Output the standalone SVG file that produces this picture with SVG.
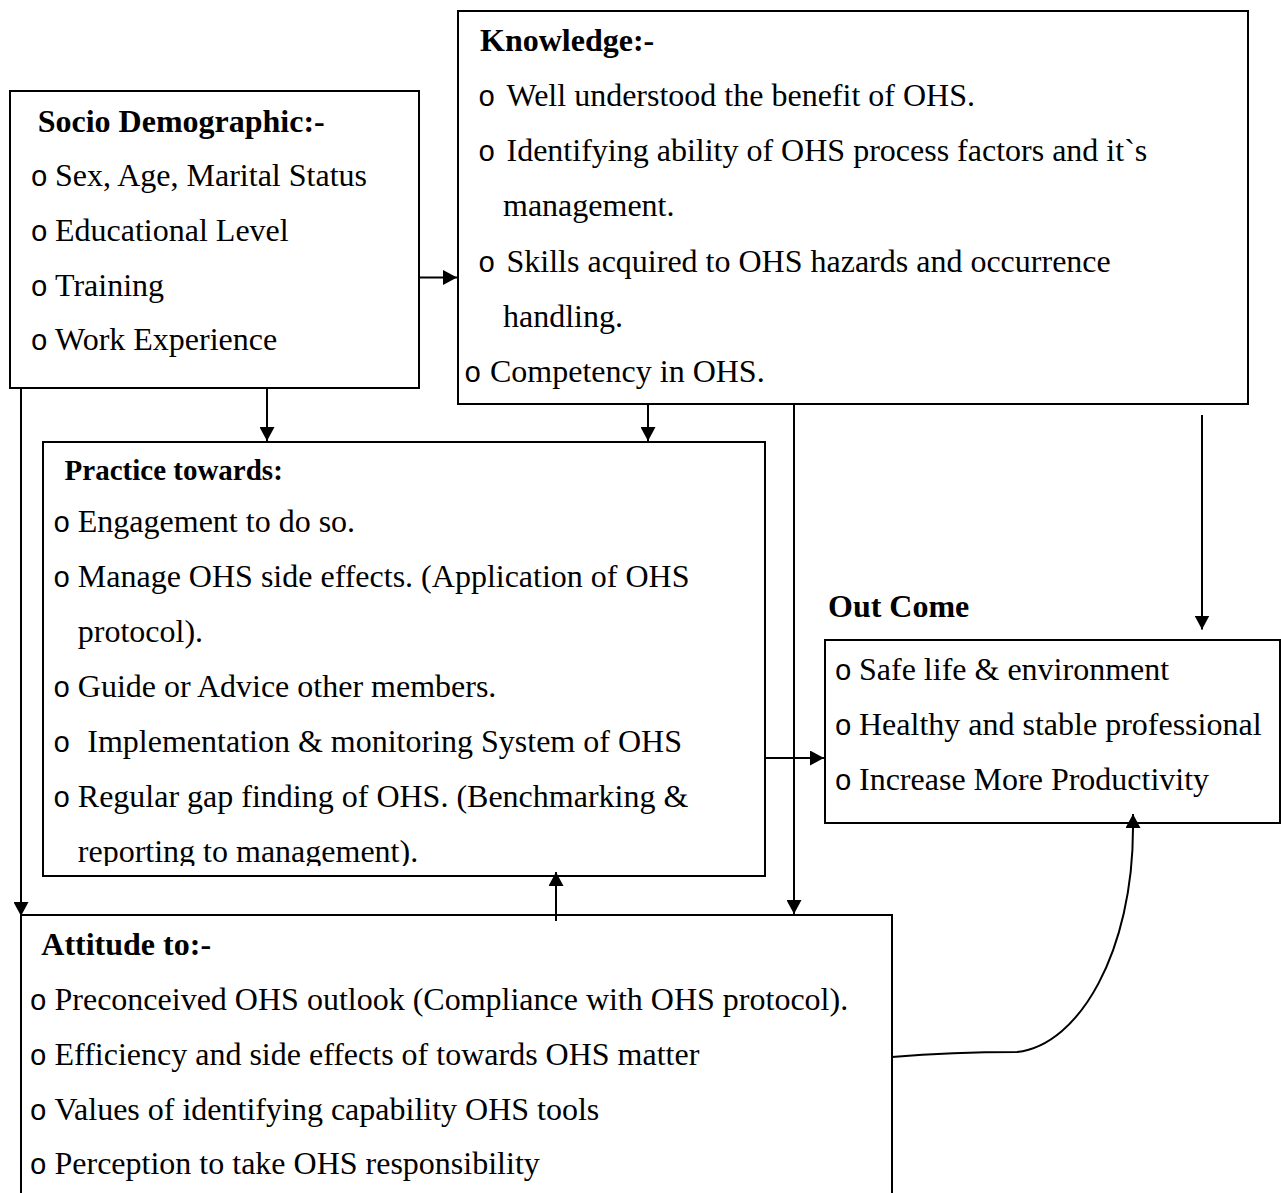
<svg xmlns="http://www.w3.org/2000/svg" width="1281" height="1193" viewBox="0 0 1281 1193">
<style>
.box{fill:#fff;stroke:#000;stroke-width:2}
.t{font-family:"Liberation Serif","Times New Roman",serif;font-size:32px;fill:#000}
.h{font-weight:bold}
.b{font-family:"Liberation Mono","Courier New",monospace;font-size:29px;fill:#000}
.c{fill:none;stroke:#000;stroke-width:2}
</style>
<defs>
<marker id="ah" viewBox="0 0 14 15" refX="14" refY="7.5" markerWidth="14" markerHeight="15" markerUnits="userSpaceOnUse" orient="auto">
<path d="M0,0 L14,7.5 L0,15 Z" fill="#000"/>
</marker>
<clipPath id="pclip"><rect x="43" y="442" width="722" height="424"/></clipPath>
</defs>
<rect width="1281" height="1193" fill="#fff"/>

<g id="socio">
<rect class="box" x="10" y="91" width="409" height="297"/>
<text class="t h" x="37.7" y="132">Socio Demographic:-</text>
<text class="b" x="30.5" y="186">o</text><text class="t" x="55" y="186">Sex, Age, Marital Status</text>
<text class="b" x="30.5" y="241">o</text><text class="t" x="55" y="241">Educational Level</text>
<text class="b" x="30.5" y="295.5">o</text><text class="t" x="55" y="295.5">Training</text>
<text class="b" x="30.5" y="349.5">o</text><text class="t" x="55" y="349.5">Work Experience</text>
</g>

<g id="knowledge">
<rect class="box" x="458" y="11" width="790" height="393"/>
<text class="t h" x="480" y="51">Knowledge:-</text>
<text class="b" x="478" y="106">o</text><text class="t" x="506.5" y="106">Well understood the benefit of OHS.</text>
<text class="b" x="478" y="161">o</text><text class="t" x="506.5" y="161">Identifying ability of OHS process factors and it`s</text>
<text class="t" x="503" y="216">management.</text>
<text class="b" x="478" y="271.5">o</text><text class="t" x="506.5" y="271.5">Skills acquired to OHS hazards and occurrence</text>
<text class="t" x="503" y="326.5">handling.</text>
<text class="b" x="464" y="381.5">o</text><text class="t" x="490" y="381.5">Competency in OHS.</text>
</g>

<g id="practice">
<rect class="box" x="43" y="442" width="722" height="434"/>
<text class="t h" x="64.6" y="479.5" style="font-size:29px">Practice towards:</text>
<g clip-path="url(#pclip)">
<text class="b" x="53" y="532">o</text><text class="t" x="77.8" y="532">Engagement to do so.</text>
<text class="b" x="53" y="587">o</text><text class="t" x="77.8" y="587">Manage OHS side effects. (Application of OHS</text>
<text class="t" x="77.8" y="642">protocol).</text>
<text class="b" x="53" y="697">o</text><text class="t" x="77.8" y="697">Guide or Advice other members.</text>
<text class="b" x="53" y="752">o</text><text class="t" x="87.3" y="752">Implementation &amp; monitoring System of OHS</text>
<text class="b" x="53" y="807">o</text><text class="t" x="77.8" y="807">Regular gap finding of OHS. (Benchmarking &amp;</text>
<text class="t" x="77.8" y="862">reporting to management).</text>
</g>
</g>

<g id="outcome">
<text class="t h" x="828" y="617">Out Come</text>
<rect class="box" x="825" y="640" width="455" height="183"/>
<text class="b" x="834.5" y="680">o</text><text class="t" x="859" y="680">Safe life &amp; environment</text>
<text class="b" x="834.5" y="735">o</text><text class="t" x="859" y="735">Healthy and stable professional</text>
<text class="b" x="834.5" y="790">o</text><text class="t" x="859" y="790">Increase More Productivity</text>
</g>

<g id="attitude">
<rect class="box" x="21" y="915" width="871" height="300"/>
<text class="t h" x="41.3" y="955">Attitude to:-</text>
<text class="b" x="29.5" y="1010">o</text><text class="t" x="54.5" y="1010">Preconceived OHS outlook (Compliance with OHS protocol).</text>
<text class="b" x="29.5" y="1065">o</text><text class="t" x="54.5" y="1065">Efficiency and side effects of towards OHS matter</text>
<text class="b" x="29.5" y="1119.5">o</text><text class="t" x="54.5" y="1119.5">Values of identifying capability OHS tools</text>
<text class="b" x="29.5" y="1174">o</text><text class="t" x="54.5" y="1174">Perception to take OHS responsibility</text>
</g>

<g id="connectors">
<line class="c" x1="419" y1="277.5" x2="457" y2="277.5" marker-end="url(#ah)"/>
<line class="c" x1="267" y1="388" x2="267" y2="441" marker-end="url(#ah)"/>
<line class="c" x1="648" y1="404" x2="648" y2="441" marker-end="url(#ah)"/>
<line class="c" x1="794" y1="404" x2="794" y2="914" marker-end="url(#ah)"/>
<line class="c" x1="21" y1="388" x2="21" y2="916" marker-end="url(#ah)"/>
<line class="c" x1="556" y1="921" x2="556" y2="872" marker-end="url(#ah)"/>
<line class="c" x1="765" y1="758" x2="824" y2="758" marker-end="url(#ah)"/>
<line class="c" x1="1202" y1="415" x2="1202" y2="629.5" marker-end="url(#ah)"/>
<path class="c" d="M892,1057 C940,1053 980,1052 1017,1052 C1080,1045 1133,950 1133,828 L1133,814" marker-end="url(#ah)"/>
</g>
</svg>
